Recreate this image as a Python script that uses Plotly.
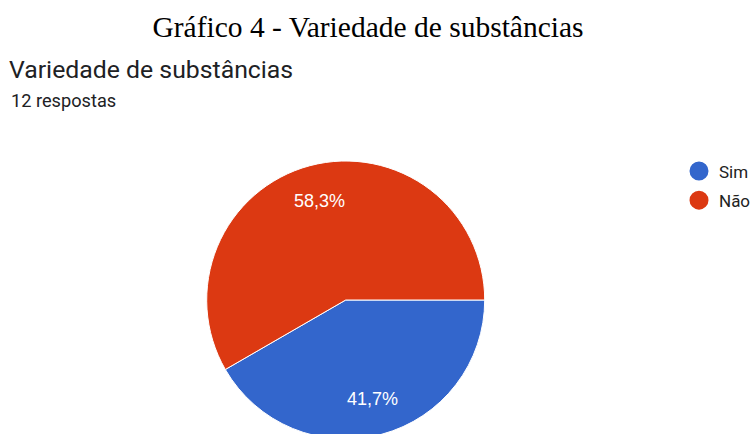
import math
import plotly.graph_objects as go

labels = ["Sim", "Não"]
values = [5, 7]
colors = ["#3366CC", "#DC3912"]
title_text = "Gráfico 4 - Variedade de substâncias"
question_text = "Variedade de substâncias"
responses_text = "12 respostas"

# figure coordinates = screen pixels (body margin removed, overflow hidden)
W, H = 752, 440
CX, CY, R = 345.7, 300.0, 139.0  # pie centre / radius in pixels
START_DEG = 0.0  # first slice starts at 3 o'clock, going clockwise
LABEL_R = 0.735

fig = go.Figure()
fig.add_trace(go.Pie(
    labels=labels, values=values, sort=False, direction="clockwise", rotation=90,
    marker=dict(colors=colors, line=dict(color="white", width=1)),
    textinfo="none", showlegend=False, hoverinfo="skip",
    domain=dict(x=[(CX - R) / W, (CX + R) / W], y=[(H - (CY + R)) / H, (H - (CY - R)) / H]),
))
for lab, col in zip(labels, colors):
    fig.add_trace(go.Scatter(x=[None], y=[None], mode="markers", name=lab, legendgroup=lab,
                             marker=dict(color=col, size=16, symbol="circle",
                                         line=dict(color=col, width=3))))

# percentage labels at slice mid-angles
annotations = []
total = sum(values)
acc = 0.0
for v in values:
    mid = START_DEG + (acc + v / 2) / total * 360.0
    acc += v
    th = math.radians(mid)
    px = CX + LABEL_R * R * math.cos(th)
    py = CY + LABEL_R * R * math.sin(th)
    pct = f"{v / total * 100:.1f}".replace(".", ",") + "%"
    annotations.append(dict(text=pct, xref="paper", yref="paper", x=px / W, y=1 - py / H,
                            xanchor="center", yanchor="middle", showarrow=False,
                            font=dict(family="Liberation Sans, Arial", size=18, color="white")))

annotations += [
    dict(text=question_text, xref="paper", yref="paper", x=7 / W, y=1 - 70 / H,
         xanchor="left", yanchor="middle", showarrow=False,
         font=dict(family="Roboto, Arial", size=24.8, color="#202124")),
    dict(text=responses_text, xref="paper", yref="paper", x=8.5 / W, y=1 - 101 / H,
         xanchor="left", yanchor="middle", showarrow=False,
         font=dict(family="Roboto, Arial", size=18.2, color="#202124")),
]

fig.update_layout(
    width=W, height=H, margin=dict(l=0, r=0, t=0, b=0, autoexpand=False),
    paper_bgcolor="white", plot_bgcolor="white",
    xaxis=dict(visible=False), yaxis=dict(visible=False),
    title=dict(text=title_text, x=368 / W, xanchor="center", y=1 - 27 / H, yanchor="middle",
               font=dict(family="Liberation Serif, Times New Roman", size=29.5, color="black")),
    legend=dict(x=679 / W, xanchor="left", y=1 - 153.5 / H, yanchor="top",
                font=dict(family="Roboto, Arial", size=17, color="#222222"),
                bgcolor="rgba(0,0,0,0)", tracegroupgap=4),
    annotations=annotations,
)
fig.write_html(
    "out.html",
    config={"displayModeBar": False},
    post_script="document.body.style.margin='0';document.body.style.overflow='hidden';",
)
